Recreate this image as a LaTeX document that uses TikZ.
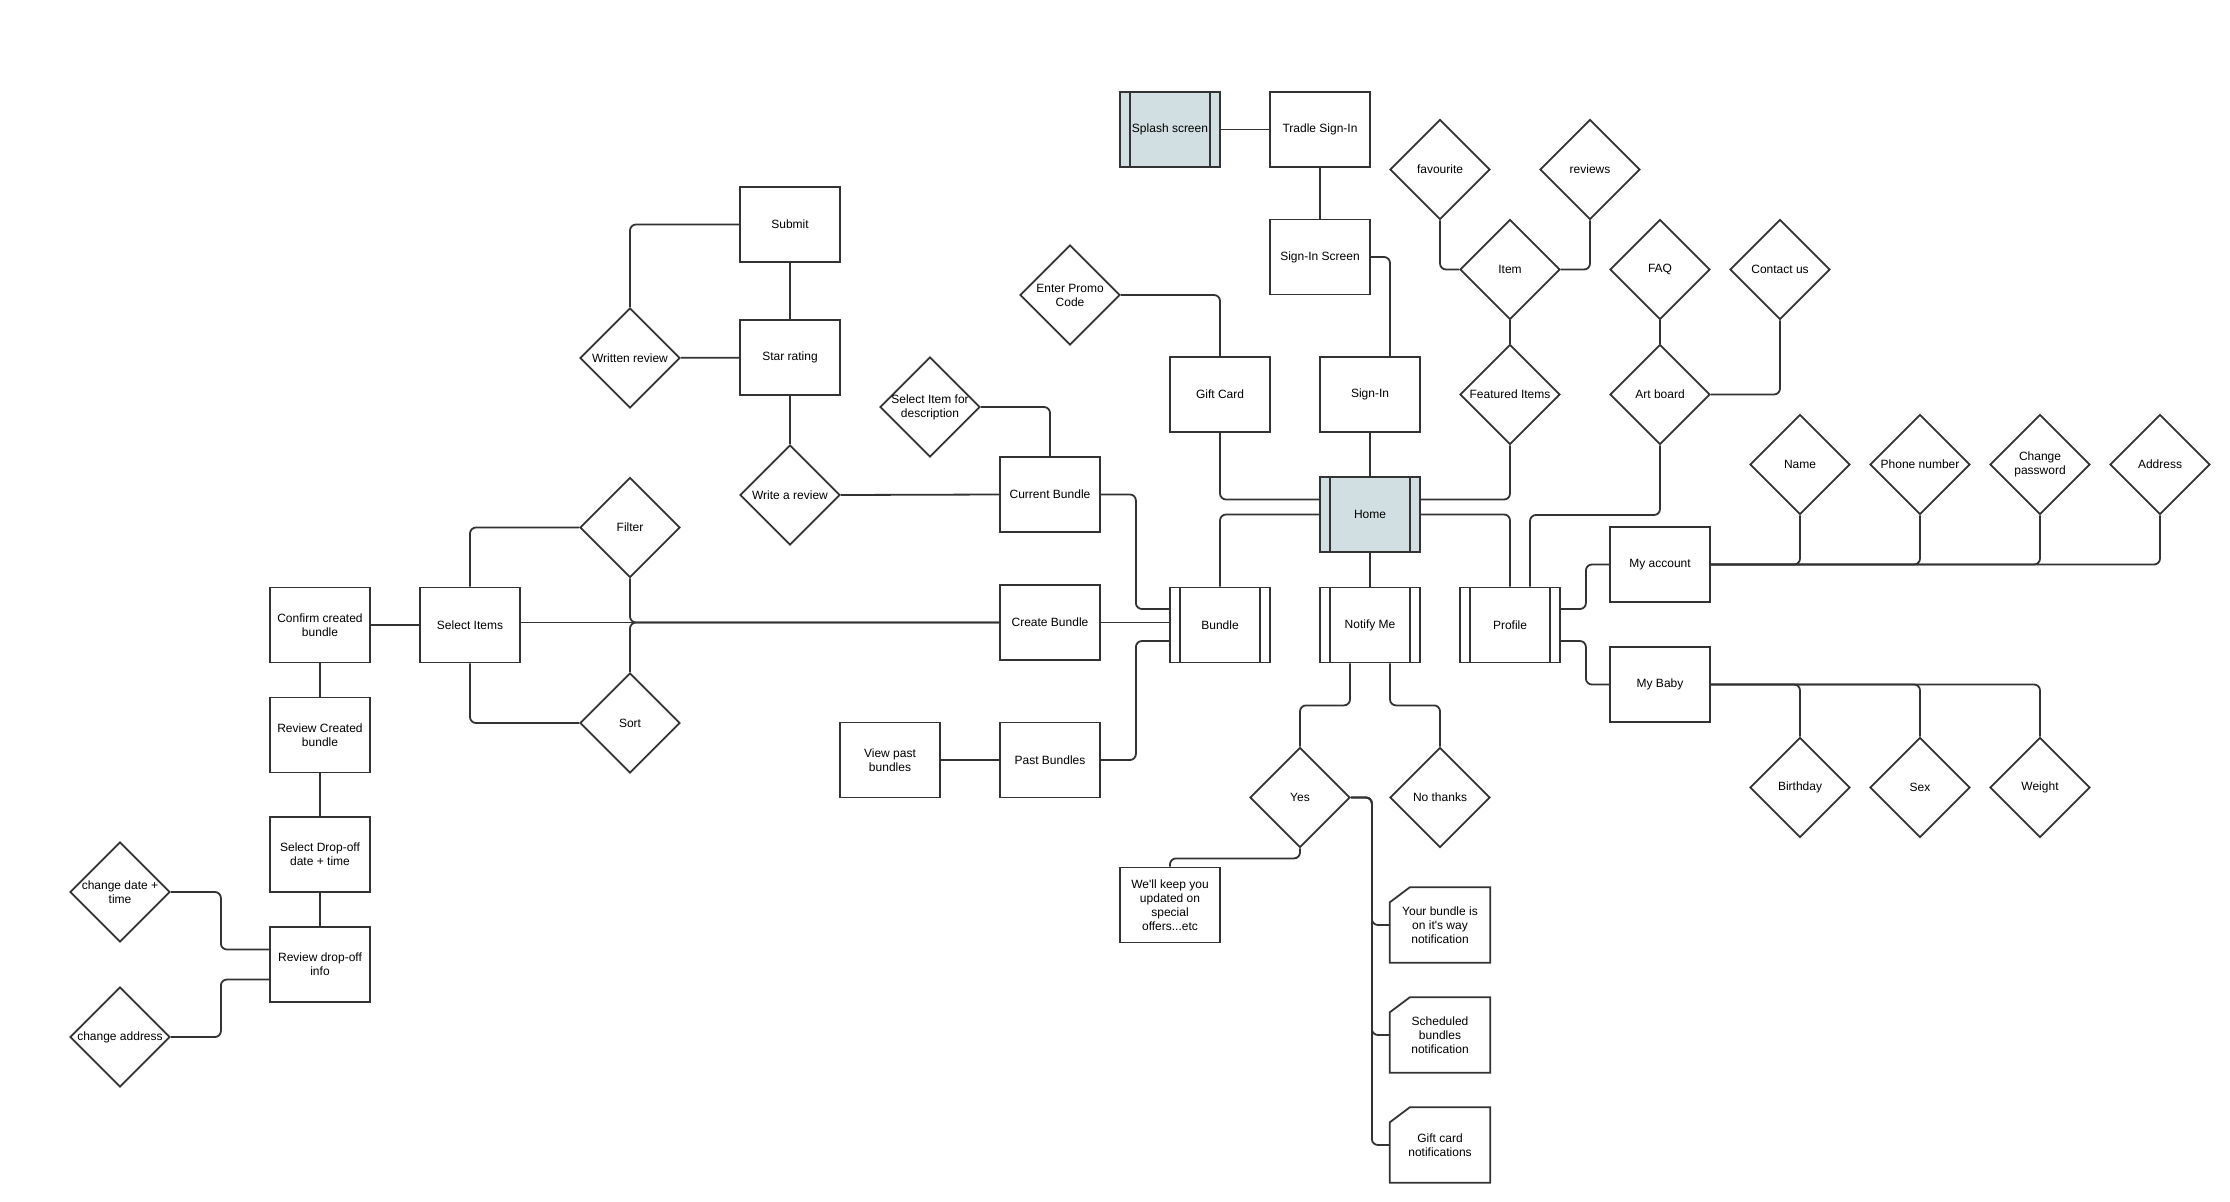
\documentclass[tikz,border=0pt]{standalone}
\usepackage{fontspec}
\setmainfont{Liberation Sans}
\usepackage{tikz}
\usepackage{xcolor}
\usetikzlibrary{shapes.geometric}
\definecolor{linegray}{HTML}{333333}
\definecolor{screenblue}{HTML}{D1DFE2}

\begin{document}
\begin{tikzpicture}[
  x=1pt, y=-1pt,
  box/.style={draw=linegray, line width=1.8pt, fill=white, rectangle, minimum width=100pt, minimum height=75pt, inner sep=2pt, align=center, font=\fontsize{12}{14}\selectfont},
  procbox/.style={box, path picture={\draw[linegray, line width=1.8pt]
      ([xshift=10pt]path picture bounding box.north west) -- ([xshift=10pt]path picture bounding box.south west)
      ([xshift=-10pt]path picture bounding box.north east) -- ([xshift=-10pt]path picture bounding box.south east);}},
  screenbox/.style={procbox, fill=screenblue},
  choice/.style={draw=linegray, line width=1.8pt, fill=white, diamond, aspect=1, minimum width=100pt, minimum height=100pt, inner sep=-4pt, align=center, font=\fontsize{12}{14}\selectfont},
  notecard/.style={rectangle, minimum width=100pt, minimum height=75pt, inner sep=2pt, align=center, font=\fontsize{12}{14}\selectfont},
  link/.style={draw=linegray, line width=1.8pt, rounded corners=6pt}
]
\useasboundingbox (0,0) rectangle (2230,1202);

\node[screenbox] (spl) at (1170,129.5) {Splash screen};
\node[box] (tra) at (1320,129.5) {Tradle Sign-In};
\node[box] (sis) at (1320,257) {Sign-In Screen};
\node[box] (gift) at (1220,394.5) {Gift Card};
\node[box] (sin) at (1370,394.5) {Sign-In};
\node[screenbox] (home) at (1370,514.5) {Home};
\node[choice] (promo) at (1070,295) {Enter Promo\\Code};

\node[choice] (fav) at (1440,169.5) {favourite};
\node[choice] (rev) at (1590,169.5) {reviews};
\node[choice] (item) at (1510,269.5) {Item};
\node[choice] (feat) at (1510,394.5) {Featured Items};
\node[choice] (faq) at (1660,269.5) {FAQ};
\node[choice] (art) at (1660,394.5) {Art board};
\node[choice] (cont) at (1780,269.5) {Contact us};

\node[procbox] (bun) at (1220,625) {Bundle};
\node[procbox] (noti) at (1370,625) {Notify Me};
\node[procbox] (prof) at (1510,625) {Profile};

\node[box] (acc) at (1660,564.5) {My account};
\node[box] (baby) at (1660,684.5) {My Baby};
\node[choice] (name) at (1800,464.5) {Name};
\node[choice] (phone) at (1920,464.5) {Phone number};
\node[choice] (pass) at (2040,464.5) {Change\\password};
\node[choice] (addr) at (2160,464.5) {Address};
\node[choice] (birth) at (1800,787.5) {Birthday};
\node[choice] (sex) at (1920,787.5) {Sex};
\node[choice] (weight) at (2040,787.5) {Weight};

\node[choice] (yes) at (1300,797.5) {Yes};
\node[choice] (no) at (1440,797.5) {No thanks};
\node[box] (keep) at (1170,905) {We\textquotesingle ll keep you\\updated on\\special\\offers...etc};
\node[notecard] (nc1) at (1440,925) {Your bundle is\\on it\textquotesingle s way\\notification};
\node[notecard] (nc2) at (1440,1035) {Scheduled\\bundles\\notification};
\node[notecard] (nc3) at (1440,1145) {Gift card\\notifications};

\node[box] (cur) at (1050,494.5) {Current Bundle};
\node[box] (cre) at (1050,622.5) {Create Bundle};
\node[box] (past) at (1050,760) {Past Bundles};
\node[box] (view) at (890,760) {View past\\bundles};
\node[choice] (selit) at (930,407) {Select Item for\\description};

\node[box] (sub) at (790,224.5) {Submit};
\node[box] (star) at (790,357.5) {Star rating};
\node[choice] (wrt) at (630,358) {Written review};
\node[choice] (wr) at (790,495) {Write a review};

\node[box] (conf) at (320,625) {Confirm created\\bundle};
\node[box] (sel) at (470,625) {Select Items};
\node[choice] (filt) at (630,527.5) {Filter};
\node[choice] (sort) at (630,723) {Sort};
\node[box] (revc) at (320,735) {Review Created\\bundle};
\node[box] (drop) at (320,854.5) {Select Drop-off\\date + time};
\node[box] (revd) at (320,964.5) {Review drop-off\\info};
\node[choice] (chd) at (120,892) {change date +\\time};
\node[choice] (cha) at (120,1037) {change address};

\coordinate (artbend) at (1530,515);

\foreach \c in {nc1,nc2,nc3}
  \draw[linegray, line width=1.8pt] ([yshift=-15pt]\c.north west) -- ([xshift=20pt]\c.north west) -- (\c.north east) -- (\c.south east) -- (\c.south west) -- cycle;

\draw[link] (spl) -- (tra);
\draw[link] (tra) -- (sis);
\draw[link] (sis.east) -| ([xshift=20pt]sin.north);
\draw[link] (sin) -- (home);
\draw[link] (promo.east) -| (gift.north);
\draw[link] (gift.south) |- ([yshift=15pt]home.west);
\draw[link] (bun.north) |- (home.west);
\draw[link] (feat.south) |- ([yshift=15pt]home.east);
\draw[link] (prof.north) |- (home.east);
\draw[link] (home) -- (noti);

\draw[link] (fav.south) |- (item.west);
\draw[link] (rev.south) |- (item.east);
\draw[link] (item) -- (feat);
\draw[link] (faq) -- (art);
\draw[link] (art.east) -| (cont.south);
\draw[link] (art.south) |- (artbend) -- ([xshift=20pt]prof.north);

\draw[link] ([yshift=16pt]prof.east) -- ++(25,0) |- (acc.west);
\draw[link] ([yshift=-16pt]prof.east) -- ++(25,0) |- (baby.west);
\foreach \d in {name,phone,pass,addr}
  \draw[link] (acc.east) -| (\d.south);
\foreach \d in {birth,sex,weight}
  \draw[link] (baby.east) -| (\d.north);

\draw[link] ([xshift=-20pt]noti.south) -- ++(0,42) -| (yes.north);
\draw[link] ([xshift=20pt]noti.south) -- ++(0,42) -| (no.north);
\draw[link] (yes.south) -- ++(0,10) -| (keep.north);
\foreach \c in {nc1,nc2,nc3}
  \draw[link] (yes.east) -- ++(21,0) |- (\c.west);

\draw[link] (cur.east) -- ++(35,0) |- ([yshift=16pt]bun.west);
\draw[link] (cre.east) -- (cre.east -| bun.west);
\draw[link] (past.east) -- ++(35,0) |- ([yshift=-16pt]bun.west);
\draw[link] (view) -- (past);
\draw[link] (selit.east) -| (cur.north);
\draw[link] (wr.east) -- (cur.west);

\draw[link] (sub) -- (star);
\draw[link] (star) -- (wr);
\draw[link] (wrt) -- (star);
\draw[link] (wrt.north) |- (sub.west);

\draw[link] (conf) -- (sel);
\draw[link] (sel.east |- cre.west) -- (cre.west);
\draw[link] (filt.south) |- (cre.west);
\draw[link] (sort.north) |- (cre.west);
\draw[link] (sel.north) |- (filt.west);
\draw[link] (sel.south) |- (sort.west);
\draw[link] (conf) -- (revc);
\draw[link] (revc) -- (drop);
\draw[link] (drop) -- (revd);
\draw[link] (chd.east) -- ++(50,0) |- ([yshift=15pt]revd.west);
\draw[link] (cha.east) -- ++(50,0) |- ([yshift=-15pt]revd.west);

\end{tikzpicture}
\end{document}
